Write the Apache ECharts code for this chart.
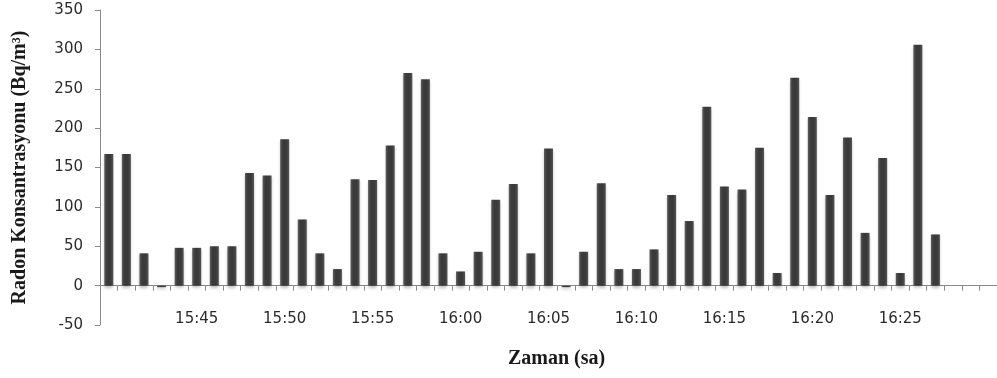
<!DOCTYPE html>
<html>
<head>
<meta charset="utf-8">
<script src="https://cdn.jsdelivr.net/npm/echarts@6/dist/echarts.min.js"></script>
<style>
  html, body { margin: 0; padding: 0; background: #ffffff; }
  #chart { width: 997px; height: 378px; }
</style>
</head>
<body>
<div id="chart"></div>
<script>
// Minute-by-minute time slots, 15:40 – 16:30
const times = [
  '15:40','15:41','15:42','15:43','15:44','15:45','15:46','15:47','15:48','15:49',
  '15:50','15:51','15:52','15:53','15:54','15:55','15:56','15:57','15:58','15:59',
  '16:00','16:01','16:02','16:03','16:04','16:05','16:06','16:07','16:08','16:09',
  '16:10','16:11','16:12','16:13','16:14','16:15','16:16','16:17','16:18','16:19',
  '16:20','16:21','16:22','16:23','16:24','16:25','16:26','16:27','16:28','16:29',
  '16:30'
];

// Radon concentration per minute (Bq/m³); the last slots have no reading
const radon = [
  167, 167, 41, -2, 48, 48, 50, 50, 143, 140,
  186, 84, 41, 21, 135, 134, 178, 270, 262, 41,
  18, 43, 109, 129, 41, 174, -2, 43, 130, 21,
  21, 46, 115, 82, 227, 126, 122, 175, 16, 264,
  214, 115, 188, 67, 162, 16, 306, 65, null, null,
  null
];

// Value-axis ticks
const yTicks = [-50, 0, 50, 100, 150, 200, 250, 300, 350];

const chart = echarts.init(document.getElementById('chart'), null, { renderer: 'canvas' });

const axisGray = '#8a8a8a';
const labelColor = '#2b2b2b';

chart.setOption({
  backgroundColor: '#ffffff',
  animation: false,
  grid: { left: 100, right: 0, top: 10, bottom: 53, containLabel: false, outerBoundsMode: 'none' },
  xAxis: {
    type: 'category',
    data: times,
    boundaryGap: true,
    name: 'Zaman (sa)',
    nameLocation: 'middle',
    nameGap: 24,
    nameMoveOverlap: false,
    nameTextStyle: {
      fontFamily: 'Liberation Serif',
      fontWeight: 'bold',
      fontSize: 20,
      color: '#1a1a1a',
      padding: [0, 0, 0, 16]
    },
    axisLine: { onZero: true, lineStyle: { color: axisGray, width: 1 } },
    axisTick: { show: true, interval: 0, length: 5, lineStyle: { color: axisGray } },
    axisLabel: {
      interval: (idx) => idx % 5 === 0 && idx > 0 && idx < 50,
      margin: -13,
      fontFamily: 'DejaVu Sans',
      fontSize: 15,
      color: labelColor
    },
    splitLine: { show: false }
  },
  yAxis: {
    type: 'value',
    min: yTicks[0],
    max: yTicks[yTicks.length - 1],
    interval: 50,
    name: 'Radon Konsantrasyonu (Bq/m³)',
    nameLocation: 'middle',
    nameGap: 70,
    nameRotate: 90,
    nameTextStyle: {
      fontFamily: 'Liberation Serif',
      fontWeight: 'bold',
      fontSize: 20,
      color: '#1a1a1a'
    },
    axisLine: { show: true, onZero: false, lineStyle: { color: axisGray, width: 1 } },
    axisTick: { show: true, length: 5, lineStyle: { color: axisGray } },
    axisLabel: {
      margin: 17,
      fontFamily: 'DejaVu Sans',
      fontSize: 15,
      color: labelColor
    },
    splitLine: { show: false }
  },
  series: [{
    type: 'bar',
    data: radon,
    barWidth: 9,
    itemStyle: {
      color: new echarts.graphic.LinearGradient(0, 0, 1, 0, [
        { offset: 0, color: '#5c5c5c' },
        { offset: 0.3, color: '#3a3a3a' },
        { offset: 0.7, color: '#3a3a3a' },
        { offset: 1, color: '#555555' }
      ]),
      shadowColor: 'rgba(0,0,0,0.25)',
      shadowBlur: 3,
      shadowOffsetY: 2
    }
  }]
});
</script>
</body>
</html>
